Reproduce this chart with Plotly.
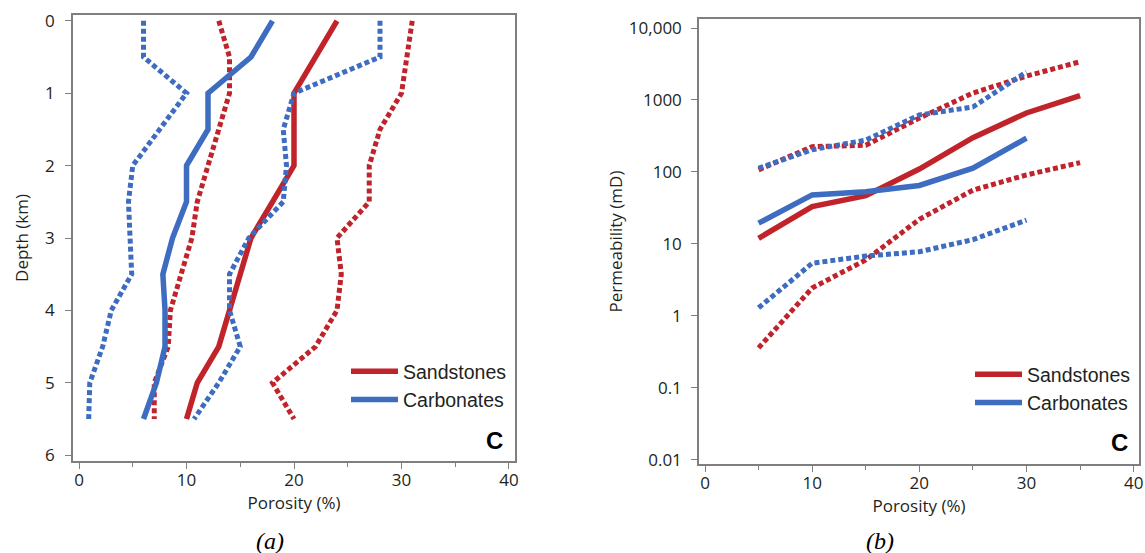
import plotly.graph_objects as go

# ---------------- data: panel (a) porosity vs depth ----------------
depth_km = [0, 0.5, 1, 1.5, 2, 2.5, 3, 3.5, 4, 4.5, 5, 5.5]
sand_por_mean = [24, 22, 20, 20, 20, 18, 16, 15, 14, 13, 11, 10]
sand_por_low = [13, 14, 14, 13, 12, 11, 10.5, 9.5, 8.5, 8.3, 7, 7]
sand_por_high = [31, 30.5, 30, 28, 27, 27, 24, 24.4, 24, 22, 18, 20]
carb_por_mean = [18, 16, 12, 12, 10, 10, 8.7, 7.8, 8, 8, 7.2, 6]
carb_por_low = [6, 6, 10, 7.5, 5, 4.6, 4.7, 4.9, 3, 2.2, 1, 0.9]
carb_por_high = [28, 28, 20, 19, 19.3, 19, 15.8, 14, 14, 15, 13, 10.7]

# ---------------- data: panel (b) porosity vs permeability ----------------
por_sand = [5, 10, 15, 20, 25, 30, 35]
por_carb = [5, 10, 15, 20, 25, 30]
sand_k_mean = [12, 33, 47, 110, 300, 660, 1150]
sand_k_high = [107, 225, 235, 560, 1250, 2150, 3400]
sand_k_low = [0.36, 2.45, 6, 22, 56, 91, 135]
carb_k_mean = [19.5, 48, 53, 65, 113, 295]
carb_k_high = [113, 204, 277, 620, 800, 2450]
carb_k_low = [1.3, 5.4, 6.8, 7.8, 11.5, 21.5]

perm_tickvals = [0.01, 0.1, 1, 10, 100, 1000, 10000]
perm_ticktext = ["0.01", "0.1", "1", "10", "100", "1000", "10,000"]
por_ticks = [0, 10, 20, 30, 40]
depth_ticks = [0, 1, 2, 3, 4, 5, 6]

RED = "#C1232B"
BLUE = "#3D6CC0"
FRAME = "#7f7f7f"
TXT = "#231f20"
SOLID_W = 5.5
DOT_W = 5
DOT = "5px,3px"

W, H = 1145, 553

fig = go.Figure()

def add(x, y, color, dash, width, xa, ya, name=None, legend=None):
    fig.add_trace(go.Scatter(
        x=x, y=y, mode="lines", xaxis=xa, yaxis=ya,
        line=dict(color=color, width=width, dash=dash),
        name=name, showlegend=name is not None,
        legend=legend if legend else "legend",
        hoverinfo="skip"))

# panel (a)
add(sand_por_low, depth_km, RED, DOT, DOT_W, "x", "y")
add(sand_por_high, depth_km, RED, DOT, DOT_W, "x", "y")
add(sand_por_mean, depth_km, RED, "solid", SOLID_W, "x", "y", "Sandstones", "legend")
add(carb_por_low, depth_km, BLUE, DOT, DOT_W, "x", "y")
add(carb_por_high, depth_km, BLUE, DOT, DOT_W, "x", "y")
add(carb_por_mean, depth_km, BLUE, "solid", SOLID_W, "x", "y", "Carbonates", "legend")

# panel (b)
add(por_sand, sand_k_high, RED, DOT, DOT_W, "x2", "y2")
add(por_sand, sand_k_low, RED, DOT, DOT_W, "x2", "y2")
add(por_carb, carb_k_high, BLUE, DOT, DOT_W, "x2", "y2")
add(por_carb, carb_k_low, BLUE, DOT, DOT_W, "x2", "y2")
add(por_sand, sand_k_mean, RED, "solid", SOLID_W, "x2", "y2", "Sandstones", "legend2")
add(por_carb, carb_k_mean, BLUE, "solid", SOLID_W, "x2", "y2", "Carbonates", "legend2")

tickfont = dict(family="Open Sans", size=17, color=TXT)
titlefont = dict(family="Open Sans", size=17, color=TXT)
legfont = dict(family="Arial", size=19.5, color=TXT)

common_x = dict(
    automargin=False,
    showline=True, mirror=True, linecolor=FRAME, linewidth=1.5,
    ticks="outside", ticklen=6, tickwidth=1.2, tickcolor=FRAME,
    tickvals=por_ticks, showgrid=False, zeroline=False,
    tickfont=tickfont, ticklabelstandoff=-3,
    minor=dict(dtick=5, ticks="outside", ticklen=4, tickwidth=1.2, tickcolor=FRAME, showgrid=False),
    title=dict(text="Porosity (%)", font=titlefont, standoff=5),
)

fig.update_layout(
    width=W, height=H,
    margin=dict(l=0, r=0, t=0, b=0),
    paper_bgcolor="white", plot_bgcolor="white",
    xaxis=dict(domain=[73/W, 515/W], range=[-0.56, 40.56], anchor="y", **common_x),
    yaxis=dict(domain=[1-461/H, 1-15/H], range=[6.08, -0.08], anchor="x",
               automargin=False,
               showline=True, mirror=True, linecolor=FRAME, linewidth=1.5,
               ticks="outside", ticklen=6, tickwidth=1.2, tickcolor=FRAME,
               tickvals=depth_ticks, showgrid=False, zeroline=False,
               tickfont=tickfont, ticklabelstandoff=7,
               title=dict(text="Depth (km)", font=titlefont, standoff=12)),
    xaxis2=dict(domain=[699/W, 1139/W], range=[-0.56, 40.5], anchor="y2", **common_x),
    yaxis2=dict(domain=[1-464/H, 1-19/H], type="log", range=[-2.056, 4.125], anchor="x2",
                automargin=False,
                showline=True, mirror=True, linecolor=FRAME, linewidth=1.5,
                ticks="outside", ticklen=6, tickwidth=1.2, tickcolor=FRAME,
                tickvals=perm_tickvals, ticktext=perm_ticktext,
                showgrid=False, zeroline=False,
                tickfont=tickfont, ticklabelstandoff=6,
                title=dict(text="Permeability (mD)", font=titlefont, standoff=2)),
    legend=dict(x=512/W, y=1-352/H, xanchor="right", yanchor="top",
                bgcolor="rgba(0,0,0,0)", font=legfont,
                itemwidth=47, tracegroupgap=0),
    legend2=dict(x=1136/W, y=1-355/H, xanchor="right", yanchor="top",
                 bgcolor="rgba(0,0,0,0)", font=legfont,
                 itemwidth=47, tracegroupgap=0),
    annotations=[
        dict(text="<b>C</b>", x=505/W, y=1-440/H, xref="paper", yref="paper",
             xanchor="right", yanchor="middle", showarrow=False,
             font=dict(family="Arial", size=24, color="black")),
        dict(text="<b>C</b>", x=1130/W, y=1-442/H, xref="paper", yref="paper",
             xanchor="right", yanchor="middle", showarrow=False,
             font=dict(family="Arial", size=24, color="black")),
        dict(text="<i>(a)</i>", x=270/W, y=1-541/H, xref="paper", yref="paper",
             xanchor="center", yanchor="middle", showarrow=False,
             font=dict(family="Liberation Serif", size=24, color="black")),
        dict(text="<i>(b)</i>", x=880/W, y=1-541/H, xref="paper", yref="paper",
             xanchor="center", yanchor="middle", showarrow=False,
             font=dict(family="Liberation Serif", size=24, color="black")),
    ],
)

fig.write_html(
    "out.html",
    config={"displayModeBar": False},
    post_script="document.body.style.margin='0';document.body.style.overflow='hidden';"
                "document.documentElement.style.overflow='hidden';",
)
